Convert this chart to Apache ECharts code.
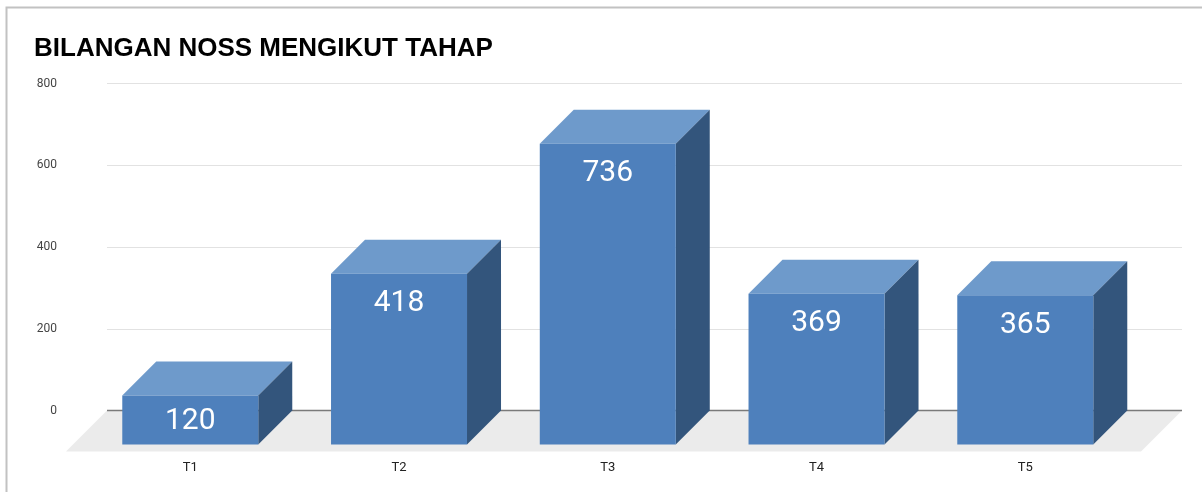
<!DOCTYPE html>
<html>
<head>
<meta charset="utf-8">
<script src="https://cdn.jsdelivr.net/npm/echarts@6/dist/echarts.min.js"></script>
<style>
html,body{margin:0;padding:0;background:#fff;}
#chart{width:1202px;height:492px;}
</style>
</head>
<body>
<div id="chart"></div>
<script>
var titleText = 'BILANGAN NOSS MENGIKUT TAHAP';
var categories = ['T1', 'T2', 'T3', 'T4', 'T5'];
var values = [120, 418, 736, 369, 365];
var yTicks = [0, 200, 400, 600, 800];

var DEPTH = 34;
var FLOOR_DEPTH = 41;
var BAR_RATIO = 0.6515;

var chart = echarts.init(document.getElementById('chart'), null, {renderer: 'canvas'});

var option = {
  backgroundColor: '#ffffff',
  animation: false,
  title: {
    text: titleText,
    left: 29,
    top: 31,
    textStyle: {fontFamily: 'Liberation Sans, Arial, sans-serif', fontWeight: 'bold', fontSize: 26, color: '#000000'}
  },
  graphic: [{
    type: 'rect',
    shape: {x: 6.5, y: 7.5, width: 1400, height: 700},
    style: {fill: null, stroke: '#c2c2c2', lineWidth: 2},
    silent: true,
    z: 100
  }],
  grid: [
    {left: 85.9, right: 72.35, top: 83.5, bottom: 81.5},
    {left: 107, right: 20, top: 83.5, bottom: 81.5}
  ],
  xAxis: [
    {
      type: 'category', gridIndex: 0, data: categories,
      axisLine: {show: false}, axisTick: {show: false}, splitLine: {show: false},
      axisLabel: {margin: 51, fontFamily: 'Roboto, Arial, sans-serif', fontSize: 13, color: '#222222'}
    },
    {type: 'value', gridIndex: 1, min: 0, max: 1, show: false}
  ],
  yAxis: [
    {type: 'value', gridIndex: 0, min: 0, max: yTicks[yTicks.length - 1], show: false},
    {
      type: 'value', gridIndex: 1, min: yTicks[0], max: yTicks[yTicks.length - 1], interval: 200,
      axisLine: {show: false}, axisTick: {show: false},
      axisLabel: {margin: 50, fontFamily: 'Roboto, Arial, sans-serif', fontSize: 12, color: '#444444'},
      splitLine: {lineStyle: {color: '#e2e2e2', width: 1.2}}
    }
  ],
  series: [
    {
      type: 'custom',
      xAxisIndex: 1, yAxisIndex: 1,
      z: 1,
      silent: true,
      data: [[0, 0]],
      renderItem: function (params, api) {
        var cs = params.coordSys;
        var y0 = api.coord([0, 0])[1];
        var xl = cs.x, xr = cs.x + cs.width;
        return {
          type: 'group',
          children: [
            {
              type: 'polygon',
              shape: {points: [[xl, y0], [xr, y0], [xr - FLOOR_DEPTH, y0 + FLOOR_DEPTH], [xl - FLOOR_DEPTH, y0 + FLOOR_DEPTH]]},
              style: {fill: '#ebebeb'}
            },
            {
              type: 'line',
              shape: {x1: xl, y1: y0, x2: xr, y2: y0},
              style: {stroke: '#7a7a7a', lineWidth: 1.5}
            }
          ]
        };
      }
    },
    {
      type: 'custom',
      xAxisIndex: 0, yAxisIndex: 0,
      z: 5,
      data: values.map(function (v, i) { return [i, v]; }),
      renderItem: function (params, api) {
        var i = api.value(0), v = api.value(1);
        var p = api.coord([i, v]);
        var p0 = api.coord([i, 0]);
        var w = api.size([1, 0])[0] * BAR_RATIO;
        var d = DEPTH;
        var fx = p[0] - w / 2;
        var fy = p[1] + d;
        var fb = p0[1] + d;
        var ty = Math.min(fy + 30, (fy + fb) / 2 + 2);
        return {
          type: 'group',
          children: [
            {
              type: 'polygon',
              shape: {points: [[fx, fy], [fx + d, fy - d], [fx + w + d, fy - d], [fx + w, fy]]},
              style: {fill: '#6e9acb'}
            },
            {
              type: 'polygon',
              shape: {points: [[fx + w, fy], [fx + w + d, fy - d], [fx + w + d, fb - d], [fx + w, fb]]},
              style: {fill: '#33557c'}
            },
            {
              type: 'rect',
              shape: {x: fx, y: fy, width: w, height: fb - fy},
              style: {fill: '#4e80bc'}
            },
            {
              type: 'text',
              style: {
                text: String(v), x: p[0], y: ty,
                align: 'center', verticalAlign: 'middle',
                fill: '#ffffff', fontSize: 30, fontFamily: 'Roboto, Arial, sans-serif'
              }
            }
          ]
        };
      }
    }
  ]
};
chart.setOption(option);
</script>
</body>
</html>
